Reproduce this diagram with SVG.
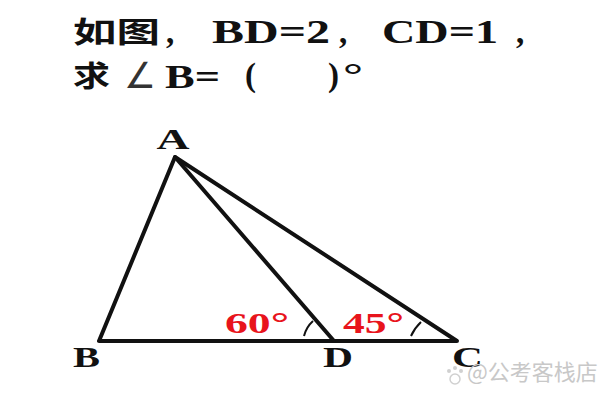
<svg xmlns="http://www.w3.org/2000/svg" width="600" height="400" viewBox="0 0 600 400">
<style>
.t{font-family:"Liberation Serif",serif;font-weight:bold;fill:#111;font-size:33px}
.c{font-family:"Noto Sans CJK SC",sans-serif;font-weight:bold;fill:#111;font-size:29px}
.lbl{font-family:"Liberation Serif",serif;font-weight:bold;font-size:29px;fill:#111}
.red{font-family:"Liberation Serif",serif;font-weight:bold;font-size:29px;fill:#e8141c}
.ln{stroke:#111;stroke-width:4;fill:none;stroke-linecap:round;stroke-linejoin:round}
.arc{stroke:#111;stroke-width:2;fill:none}
.wm{font-family:"Noto Sans CJK SC",sans-serif;font-size:22px;fill:#c8c8c8}
</style>
<rect width="600" height="400" fill="#fff"/>
<g id="title">
<text class="c" x="73" y="43" textLength="87" lengthAdjust="spacingAndGlyphs">如图</text>
<text class="t" x="166" y="43">,</text>
<text class="t" x="212" y="43" textLength="118" lengthAdjust="spacingAndGlyphs">BD=2</text>
<text class="t" x="339" y="43">,</text>
<text class="t" x="382" y="43" textLength="116" lengthAdjust="spacingAndGlyphs">CD=1</text>
<text class="t" x="516" y="43">,</text>
<text class="c" x="73" y="87" textLength="37" lengthAdjust="spacingAndGlyphs">求</text>
<text x="124" y="88" style="font-family:'DejaVu Sans',sans-serif;font-weight:normal;font-size:36px;fill:#333" textLength="32" lengthAdjust="spacingAndGlyphs">∠</text>
<text class="t" x="165" y="88" font-size="34" textLength="55" lengthAdjust="spacingAndGlyphs">B=</text>
<text class="t" x="245" y="86" font-size="32">(</text>
<text class="t" x="328" y="86" font-size="32">)</text>
<text class="t" x="343" y="86" font-size="32" textLength="20" lengthAdjust="spacingAndGlyphs">°</text>
</g>
<g id="connectors">
<path class="ln" d="M175,157 L99,341 L457,341 Z"/>
<path class="ln" d="M175,157 L334,341"/>
</g>
<g id="arcs">
<path class="arc" d="M304,336 A30,30 0 0 1 313,321"/>
<path class="arc" d="M411,336 A44,44 0 0 1 421,322"/>
</g>
<g id="node-A"><text class="lbl" x="173" y="149" text-anchor="middle" textLength="33" lengthAdjust="spacingAndGlyphs">A</text></g>
<g id="node-B"><text class="lbl" x="73" y="367" textLength="27" lengthAdjust="spacingAndGlyphs">B</text></g>
<g id="node-D"><text class="lbl" x="323" y="367" textLength="30" lengthAdjust="spacingAndGlyphs">D</text></g>
<g id="node-C"><text class="lbl" x="452" y="367" textLength="31" lengthAdjust="spacingAndGlyphs">C</text></g>
<g id="angles">
<text class="red" x="225" y="333" textLength="64" lengthAdjust="spacingAndGlyphs">60°</text>
<text class="red" x="343" y="333" textLength="61" lengthAdjust="spacingAndGlyphs">45°</text>
</g>
<g id="watermark">
<circle cx="455" cy="379" r="5" fill="none" stroke="#d0d0d0" stroke-width="1.5"/>
<circle cx="449" cy="371" r="2" fill="#d0d0d0"/>
<circle cx="455" cy="368" r="2" fill="#d0d0d0"/>
<circle cx="461" cy="371" r="2" fill="#d0d0d0"/>
<text class="wm" x="467" y="380">@公考客栈店</text>
</g>
</svg>
